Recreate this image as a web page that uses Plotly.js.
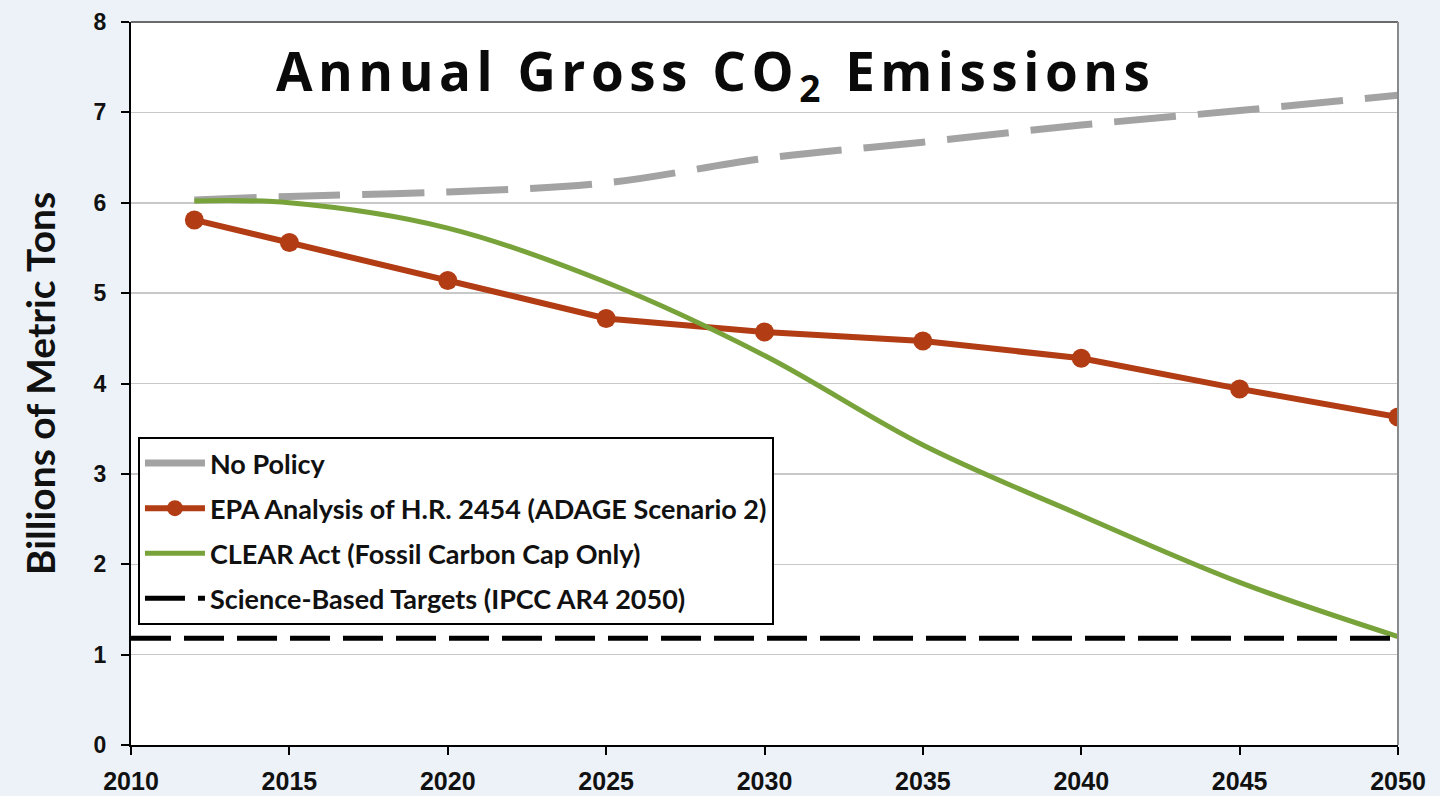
<!DOCTYPE html>
<html>
<head>
<meta charset="utf-8">
<script src="https://cdn.plot.ly/plotly-3.0.1.min.js"></script>
<style>
html,body{margin:0;padding:0;background:#edf2f8;}
#chart{width:1440px;height:796px;}
.gtitle{letter-spacing:5.5px;}
</style>
</head>
<body>
<div id="chart"></div>
<script>
// ---- data ----
const years = [2012, 2015, 2020, 2025, 2030, 2035, 2040, 2045, 2050];
const noPolicy = [6.03, 6.07, 6.12, 6.22, 6.49, 6.67, 6.86, 7.02, 7.19];
const epa = [5.81, 5.56, 5.14, 4.72, 4.57, 4.47, 4.28, 3.94, 3.63];
const clear = [6.02, 6.00, 5.72, 5.12, 4.31, 3.32, 2.54, 1.80, 1.20];
const targetYears = [2010, 2050];
const target = [1.18, 1.18];
const xTicks = [2010, 2015, 2020, 2025, 2030, 2035, 2040, 2045, 2050];
const yTicks = [0, 1, 2, 3, 4, 5, 6, 7, 8];
const seriesNames = [
  "No Policy",
  "EPA Analysis of H.R. 2454 (ADAGE Scenario 2)",
  "CLEAR Act (Fossil Carbon Cap Only)",
  "Science-Based Targets (IPCC AR4 2050)"
];

const traces = [
  {x: years, y: noPolicy, name: seriesNames[0], mode: "lines", legendgroup: "a",
   line: {color: "#a3a3a3", width: 7, dash: "62px,22px", shape: "spline"}},
  {x: years, y: epa, name: seriesNames[1], mode: "lines+markers", legendgroup: "b",
   line: {color: "#b23c14", width: 6},
   marker: {color: "#b23c14", size: 19}},
  {x: years, y: clear, name: seriesNames[2], mode: "lines", legendgroup: "c",
   line: {color: "#78a33b", width: 5, shape: "spline"}},
  {x: targetYears, y: target, name: seriesNames[3], mode: "lines", legendgroup: "d",
   line: {color: "#000000", width: 5, dash: "40px,13px"}}
];

const layout = {
  width: 1440, height: 796,
  paper_bgcolor: "#edf2f8",
  plot_bgcolor: "#ffffff",
  margin: {l: 131, r: 42, t: 22, b: 51},
  showlegend: true,
  title: {
    text: "<b>Annual Gross CO<sub>2</sub> Emissions</b>",
    x: 0.497, xref: "container", xanchor: "center",
    y: 0.909, yref: "container", yanchor: "middle",
    font: {family: "Open Sans", size: 53, color: "#0a0a0a"}
  },
  xaxis: {
    range: [2010, 2050],
    tickmode: "array", tickvals: xTicks, ticktext: xTicks.map(String),
    ticks: "outside", ticklen: 8, tickwidth: 2, tickcolor: "#000",
    showline: true, linecolor: "#000", linewidth: 2,
    showgrid: false, zeroline: false,
    tickfont: {family: "Liberation Sans", size: 25, color: "#111", weight: "bold"},
    ticklabelstandoff: 5
  },
  yaxis: {
    range: [0, 8],
    tickmode: "array", tickvals: yTicks, ticktext: yTicks.map(String),
    ticks: "outside", ticklen: 8, tickwidth: 2, tickcolor: "#000",
    showline: true, linecolor: "#000", linewidth: 2,
    showgrid: true, gridcolor: "#c8c8c8", gridwidth: 1.5,
    zeroline: false,
    tickfont: {family: "Liberation Sans", size: 23, color: "#111", weight: "bold"},
    ticklabelstandoff: 10,
    title: {text: "Billions of Metric Tons", standoff: 26,
            font: {family: "Lato", size: 39, color: "#111", weight: "bold"}}
  },
  legend: {
    x: 0.0055, xanchor: "left", y: 0.426, yanchor: "top",
    bgcolor: "#ffffff", bordercolor: "#000", borderwidth: 2,
    font: {family: "Lato", size: 27, color: "#111", weight: "bold"},
    tracegroupgap: 7, itemwidth: 60,
    traceorder: "grouped"
  },
  shapes: [
    {type: "line", xref: "paper", yref: "paper", x0: 0, x1: 1, y0: 1, y1: 1,
     line: {color: "#6a6a6a", width: 2}},
    {type: "line", xref: "paper", yref: "paper", x0: 1, x1: 1, y0: 0, y1: 1,
     line: {color: "#8a8a8a", width: 2}}
  ]
};

Plotly.newPlot("chart", traces, layout, {displayModeBar: false, staticPlot: true});
</script>
</body>
</html>
